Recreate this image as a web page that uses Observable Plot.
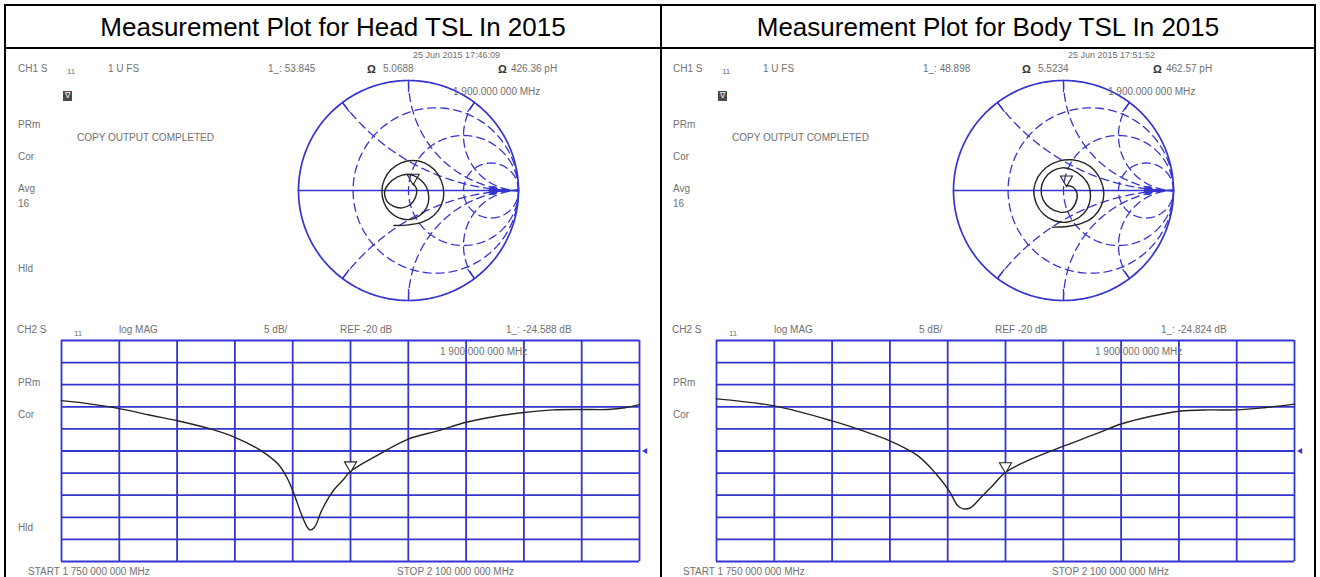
<!DOCTYPE html>
<html><head><meta charset="utf-8">
<script src="https://cdn.jsdelivr.net/npm/d3@7"></script>
<script src="https://cdn.jsdelivr.net/npm/@observablehq/plot@0.6"></script>
<style>
html,body{margin:0;padding:0;background:#fff;}
body{width:1320px;height:577px;position:relative;overflow:hidden;font-family:"Liberation Sans",Arial,sans-serif;}
.ln{position:absolute;background:#000;}
.t{position:absolute;white-space:nowrap;color:#707070;}
.title{position:absolute;text-align:center;font-size:26px;line-height:30px;color:#000;white-space:nowrap;}
.plot{position:absolute;}
.plot svg{overflow:visible;}
</style></head><body>
<script>
// ---------- data ----------
const panelTitles = ["Measurement Plot for Head TSL In 2015", "Measurement Plot for Body TSL In 2015"];
const timestamps = ["25 Jun 2015 17:46:09", "25 Jun 2015 17:51:52"];
const smithResistanceValues = ["53.845", "48.898"];
const smithReactanceValues = ["5.0688", "5.5234"];
const smithInductanceValues = ["426.36 pH", "462.57 pH"];
const logMagMarkerValues = ["-24.588 dB", "-24.824 dB"];
const markerFreqLabel = "1 900.000 000 MHz";
const startLabel = "START 1 750 000 000 MHz";
const stopLabel = "STOP 2 100 000 000 MHz";
const ch1Labels = ["CH1 S", "11", "1 U FS"];
const ch2Labels = ["CH2 S", "11", "log MAG", "5 dB/", "REF -20 dB"];

const freqTicks = [1700, 1740, 1780, 1820, 1860, 1900, 1940, 1980, 2020, 2060, 2100];
const dbTicks = [5, 0, -5, -10, -15, -20, -25, -30, -35, -40, -45];
const markerFreq = 1900;
const refLevel = -20;

const headFreq = [1700, 1712, 1740, 1760, 1781, 1803, 1820, 1838, 1850, 1856, 1861, 1866, 1870, 1872, 1875, 1880, 1885, 1889, 1895, 1900, 1920, 1940, 1961, 1980, 2000, 2020, 2040, 2059, 2078, 2090, 2100];
const headDb = [-8.6, -9.0, -10.4, -11.8, -13.2, -15.0, -16.9, -19.9, -23.0, -26.0, -29.8, -34.3, -37.2, -37.9, -37.3, -33.5, -30.5, -28.6, -26.5, -24.6, -20.7, -17.3, -15.4, -13.5, -12.2, -11.3, -10.7, -10.6, -10.6, -10.2, -9.5];
const bodyFreq = [1700, 1740, 1780, 1801, 1820, 1839, 1852, 1861, 1867, 1871, 1876, 1883, 1892, 1900, 1918, 1941, 1962, 1980, 2000, 2020, 2041, 2060, 2079, 2100];
const bodyDb = [-8.2, -9.8, -13.2, -15.4, -17.7, -21.0, -25.2, -29.0, -32.4, -33.1, -32.8, -30.5, -27.5, -24.8, -21.8, -18.8, -16.2, -13.9, -12.2, -11.0, -10.7, -10.7, -10.2, -9.4];
const markerDb = [-24.6, -24.8];

const headGammaRe = [-0.133, 0.003, 0.124, 0.230, 0.297, 0.321, 0.297, 0.236, 0.145, 0.039, -0.067, -0.158, -0.218, -0.242, -0.224, -0.170, -0.088, 0.012, 0.103, 0.164, 0.185, 0.164, 0.109, 0.048, -0.027, -0.103, -0.179, -0.218, -0.200, -0.139, -0.058, 0.018, 0.064, 0.073, 0.042];
const headGammaIm = [-0.318, -0.312, -0.288, -0.227, -0.136, -0.024, 0.091, 0.188, 0.252, 0.273, 0.252, 0.191, 0.103, 0.000, -0.106, -0.194, -0.248, -0.264, -0.227, -0.158, -0.067, 0.030, 0.097, 0.136, 0.145, 0.121, 0.061, -0.015, -0.091, -0.142, -0.158, -0.127, -0.061, 0.015, 0.061];
const bodyGammaRe = [-0.103, 0.033, 0.170, 0.276, 0.342, 0.367, 0.342, 0.282, 0.191, 0.079, -0.042, -0.155, -0.233, -0.270, -0.248, -0.185, -0.088, 0.027, 0.139, 0.215, 0.245, 0.230, 0.170, 0.079, -0.012, -0.103, -0.173, -0.203, -0.185, -0.124, -0.033, 0.058, 0.109, 0.124, 0.088, 0.027];
const bodyGammaIm = [-0.333, -0.327, -0.297, -0.236, -0.142, -0.030, 0.085, 0.182, 0.248, 0.279, 0.267, 0.212, 0.121, 0.006, -0.115, -0.212, -0.273, -0.288, -0.248, -0.167, -0.061, 0.045, 0.127, 0.188, 0.206, 0.176, 0.106, 0.015, -0.085, -0.158, -0.197, -0.182, -0.115, -0.030, 0.030, 0.045];
const smithMarkerRe = [0.042, 0.027];
const smithMarkerIm = [0.061, 0.045];
const smithRefDot = [0.77, 0];
const smithResistanceGrid = [0.33, 1, 3];
const smithReactanceGrid = [0.5, 1, 2];

// ---------- styling ----------
const BLUE = "#3434d0";
const TRACE = "#242424";

function line(l, t, w, h) {
  const d = document.createElement("div");
  d.className = "ln";
  Object.assign(d.style, {left: l + "px", top: t + "px", width: w + "px", height: h + "px"});
  document.body.appendChild(d);
}
function label(text, x, yc, opts = {}) {
  const d = document.createElement("div");
  d.className = "t";
  d.textContent = text;
  const fs = opts.size || 10;
  d.style.fontSize = fs + "px";
  d.style.lineHeight = (fs + 2) + "px";
  d.style.left = x + "px";
  d.style.top = (yc - (fs + 2) / 2) + "px";
  if (opts.color) d.style.color = opts.color;
  if (opts.weight) d.style.fontWeight = opts.weight;
  document.body.appendChild(d);
  return d;
}
function place(node, left, top) {
  const w = document.createElement("div");
  w.className = "plot";
  w.style.left = left + "px";
  w.style.top = top + "px";
  w.appendChild(node);
  document.body.appendChild(w);
}

// table frame
line(4, 4, 1312, 2);
line(4, 46.5, 1312, 2);
line(4, 4, 2, 600);
line(660, 4, 2, 600);
line(1314, 4, 2, 600);

const titleBoxes = [[6, 660], [662, 1314]];
panelTitles.forEach((t, i) => {
  const d = document.createElement("div");
  d.className = "title";
  d.textContent = t;
  d.style.left = titleBoxes[i][0] + "px";
  d.style.width = (titleBoxes[i][1] - titleBoxes[i][0]) + "px";
  d.style.top = "12px";
  document.body.appendChild(d);
});

// Smith chart grid geometry (normalised impedance -> reflection coefficient)
function gammaOf(r, x) {
  const D = (r + 1) * (r + 1) + x * x;
  return [(r * r + x * x - 1) / D, (2 * x) / D];
}
const smithGrid = [];
smithResistanceGrid.forEach((r, i) => {
  const c = r / (1 + r), R = 1 / (1 + r);
  for (let k = 0; k <= 240; k++) {
    const a = k / 240 * 2 * Math.PI;
    smithGrid.push({id: "r" + i, re: c + R * Math.cos(a), im: R * Math.sin(a)});
  }
});
smithReactanceGrid.forEach((x, i) => [1, -1].forEach(s => {
  for (let k = 0; k <= 300; k++) {
    const t = k / 300 * 0.998;
    const g = gammaOf(t / (1 - t), s * x);
    smithGrid.push({id: "x" + i + s, re: g[0], im: g[1]});
  }
  smithGrid.push({id: "x" + i + s, re: 1, im: 0});
}));
const outer = [];
for (let k = 0; k <= 360; k++) {
  const a = k / 360 * 2 * Math.PI;
  outer.push({re: Math.cos(a), im: Math.sin(a)});
}
const ticks = [];
smithReactanceGrid.forEach((x, i) => [1, -1].forEach(s => {
  const g = gammaOf(0, s * x);
  ticks.push({id: "t" + i + s, re: g[0], im: g[1]}, {id: "t" + i + s, re: g[0] * 0.9, im: g[1] * 0.9});
}));

const smithTraces = [
  headGammaRe.map((re, k) => ({re, im: headGammaIm[k]})),
  bodyGammaRe.map((re, k) => ({re, im: bodyGammaIm[k]}))
];
const logTraces = [
  headFreq.map((f, k) => ({f, db: headDb[k]})),
  bodyFreq.map((f, k) => ({f, db: bodyDb[k]}))
];

const OFFSET = 655;
const smithC = [408, 190], smithR = 110;
const grid = {left: 61, top: 340, width: 578, height: 221};

for (let p = 0; p < 2; p++) {
  const X = p * OFFSET;

  // ---- Smith chart ----
  const smith = Plot.plot({
    width: 2 * smithR + 6, height: 2 * smithR + 6, margin: 3,
    x: {domain: [-1, 1], axis: null}, y: {domain: [-1, 1], axis: null},
    style: {background: "transparent", overflow: "visible"},
    marks: [
      Plot.line(smithGrid, {x: "re", y: "im", z: "id", stroke: BLUE, strokeWidth: 1.3, strokeDasharray: "8,5"}),
      Plot.line(ticks, {x: "re", y: "im", z: "id", stroke: BLUE, strokeWidth: 1.3}),
      Plot.line(outer, {x: "re", y: "im", stroke: BLUE, strokeWidth: 1.7}),
      Plot.line([{re: -1, im: 0}, {re: 1, im: 0}], {x: "re", y: "im", stroke: BLUE, strokeWidth: 1.7}),
      Plot.dot([smithRefDot], {x: d => d[0], y: d => d[1], r: 4.5, fill: BLUE}),
      Plot.line(smithTraces[p], {x: "re", y: "im", stroke: TRACE, strokeWidth: 1.4, curve: "catmull-rom"}),
      Plot.dot([[smithMarkerRe[p], smithMarkerIm[p]]], {x: d => d[0], y: d => d[1], symbol: "triangle", rotate: 180, r: 4.5, stroke: TRACE, fill: "none", strokeWidth: 1.1, dy: -6})
    ]
  });
  place(smith, smithC[0] - smithR - 3 + X, smithC[1] - smithR - 3);

  // ---- log magnitude ----
  const logmag = Plot.plot({
    width: grid.width + 14, height: grid.height + 6,
    marginLeft: 2, marginRight: 12, marginTop: 3, marginBottom: 3,
    x: {domain: [freqTicks[0], freqTicks[freqTicks.length - 1]], axis: null},
    y: {domain: [dbTicks[dbTicks.length - 1], dbTicks[0]], axis: null},
    style: {background: "transparent", overflow: "visible"},
    marks: [
      Plot.ruleX(freqTicks, {stroke: BLUE, strokeWidth: 1.8}),
      Plot.ruleY(dbTicks, {stroke: BLUE, strokeWidth: 1.8}),
      Plot.line(logTraces[p], {x: "f", y: "db", stroke: TRACE, strokeWidth: 1.4, curve: "catmull-rom"}),
      Plot.dot([[markerFreq, markerDb[p]]], {x: d => d[0], y: d => d[1], symbol: "triangle", rotate: 180, r: 4.5, stroke: TRACE, fill: "white", strokeWidth: 1.1, dy: -6}),
      Plot.dot([[freqTicks[freqTicks.length - 1], refLevel]], {x: d => d[0], y: d => d[1], symbol: "triangle", rotate: -90, r: 2.2, fill: BLUE, dx: 6})
    ]
  });
  place(logmag, grid.left - 2 + X, grid.top - 3);

  // ---- instrument annotations ----
  label(timestamps[p], 413 + X, 55, {size: 9});
  label(ch1Labels[0], 18 + X, 69);
  label(ch1Labels[1], 67 + X, 72, {size: 8});
  label(ch1Labels[2], 108 + X, 69);
  label("1_: " + smithResistanceValues[p], 268 + X, 69);
  label("Ω", 367 + X, 69, {size: 11, weight: "bold", color: "#333"});
  label(smithReactanceValues[p], 383 + X, 69);
  label("Ω", 498 + X, 69, {size: 11, weight: "bold", color: "#333"});
  label(smithInductanceValues[p], 511 + X, 69);
  const icon = label("∇", 63 + X, 96, {size: 8, color: "#fff"});
  icon.style.background = "#4a4a4a";
  icon.style.padding = "0 2px";
  label(markerFreqLabel, 453 + X, 92);
  label("PRm", 18 + X, 125);
  label("COPY OUTPUT COMPLETED", 77 + X, 138);
  label("Cor", 18 + X, 157);
  label("Avg", 18 + X, 189);
  label("16", 18 + X, 204);
  if (p === 0) label("Hld", 18 + X, 269);

  label(ch2Labels[0], 17 + X, 330);
  label(ch2Labels[1], 74 + X, 334, {size: 8});
  label(ch2Labels[2], 119 + X, 330);
  label(ch2Labels[3], 264 + X, 330);
  label(ch2Labels[4], 340 + X, 330);
  label("1_: " + logMagMarkerValues[p], 506 + X, 330);
  label(markerFreqLabel, 440 + X, 352);
  label("PRm", 18 + X, 383);
  label("Cor", 18 + X, 415);
  if (p === 0) label("Hld", 18 + X, 528);
  label(startLabel, 28 + X, 572);
  label(stopLabel, 397 + X, 572);
}
</script>
</body></html>
